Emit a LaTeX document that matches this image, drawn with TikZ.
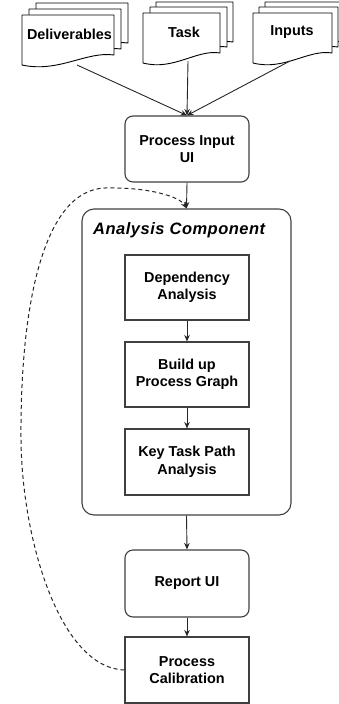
\documentclass[tikz,border=0pt]{standalone}
\usepackage{fontspec}
\setmainfont{Liberation Sans}
\usetikzlibrary{arrows.meta}
\newcommand\docsheet[4]{%
  \begin{scope}[shift={(#1,#2)}]
    \draw[sheet] (0,0) -- (#3,0) -- (#3,#4-10)
      .. controls (0.7*#3,#4-14) and (0.4*#3,#4+8) .. (0,#4) -- cycle;
  \end{scope}}
\begin{document}
\begin{tikzpicture}[x=1pt,y=-1pt,
  txt/.style={font=\bfseries\fontsize{14.4}{17.5}\selectfont, align=center, inner sep=0pt},
  box/.style={txt, draw=black!75, line width=1.1pt, fill=white, minimum width=124pt},
  rbox/.style={box, rounded corners=8pt},
  sheet/.style={draw=black, line width=0.9pt, fill=white, line join=round},
  arr/.style={-{Stealth[length=6.5pt,width=5.5pt]}, line width=0.9pt, draw=black!85},
  dasharr/.style={arr, line width=1pt, dash pattern=on 4pt off 3pt}]
\useasboundingbox (0,0) rectangle (339,704);

% documents
\docsheet{36}{3}{92}{50}
\docsheet{29}{9}{92}{50}
\docsheet{22}{15}{92}{50}
\docsheet{156}{2}{77}{50}
\docsheet{150}{7}{77}{50}
\docsheet{143}{13}{77}{50}
\docsheet{265}{2}{79}{50}
\docsheet{259}{7}{79}{50}
\docsheet{253}{13}{79}{50}
\node[txt] (deliv) at (69.5,34) {Deliverables};
\node[txt] (task) at (184,32.5) {Task};
\node[txt] (inputs) at (292,32.5) {Inputs};
\coordinate (dB) at (77,65);
\coordinate (tB) at (188,61);
\coordinate (iB) at (290,61);

% main flow
\node[rbox, minimum height=66pt] (pin) at (187,149) {Process Input\\UI};
\node[draw=black!75, line width=1.1pt, rounded corners=12pt, minimum width=209pt, minimum height=306pt, inner sep=0pt] (ana) at (186.5,362) {};
\node[anchor=base west, inner sep=0pt, font=\bfseries\itshape\fontsize{16.5}{18}\selectfont\addfontfeature{LetterSpace=3}] (title) at (93,234) {Analysis Component};
\node[box, minimum height=65pt] (dep) at (187,287.5) {Dependency\\Analysis};
\node[box, minimum height=65pt] (build) at (187,374.5) {Build up\\Process Graph};
\node[box, minimum height=66pt] (key) at (187,462) {Key Task Path\\Analysis};
\node[rbox, minimum height=67pt] (rep) at (187,583.5) {Report UI};
\node[box, minimum height=66pt] (cal) at (187,670) {Process\\Calibration};

% connectors
\draw[arr] (dB) -- (pin.north);
\draw[arr] (tB) -- (pin.north);
\draw[arr] (iB) -- (pin.north);
\draw[arr] (pin.south) -- (ana.north);
\draw[arr] (dep.south) -- (build.north);
\draw[arr] (build.south) -- (key.north);
\draw[arr] (ana.south) -- (rep.north);
\draw[arr] (rep.south) -- (cal.north);
\draw[dasharr] (cal.west) .. controls (60,668) and (22,540) .. (21,440)
  .. controls (20,300) and (45,190) .. (105,188)
  .. controls (150,187) and (180,197) .. (ana.north);
\end{tikzpicture}
\end{document}
